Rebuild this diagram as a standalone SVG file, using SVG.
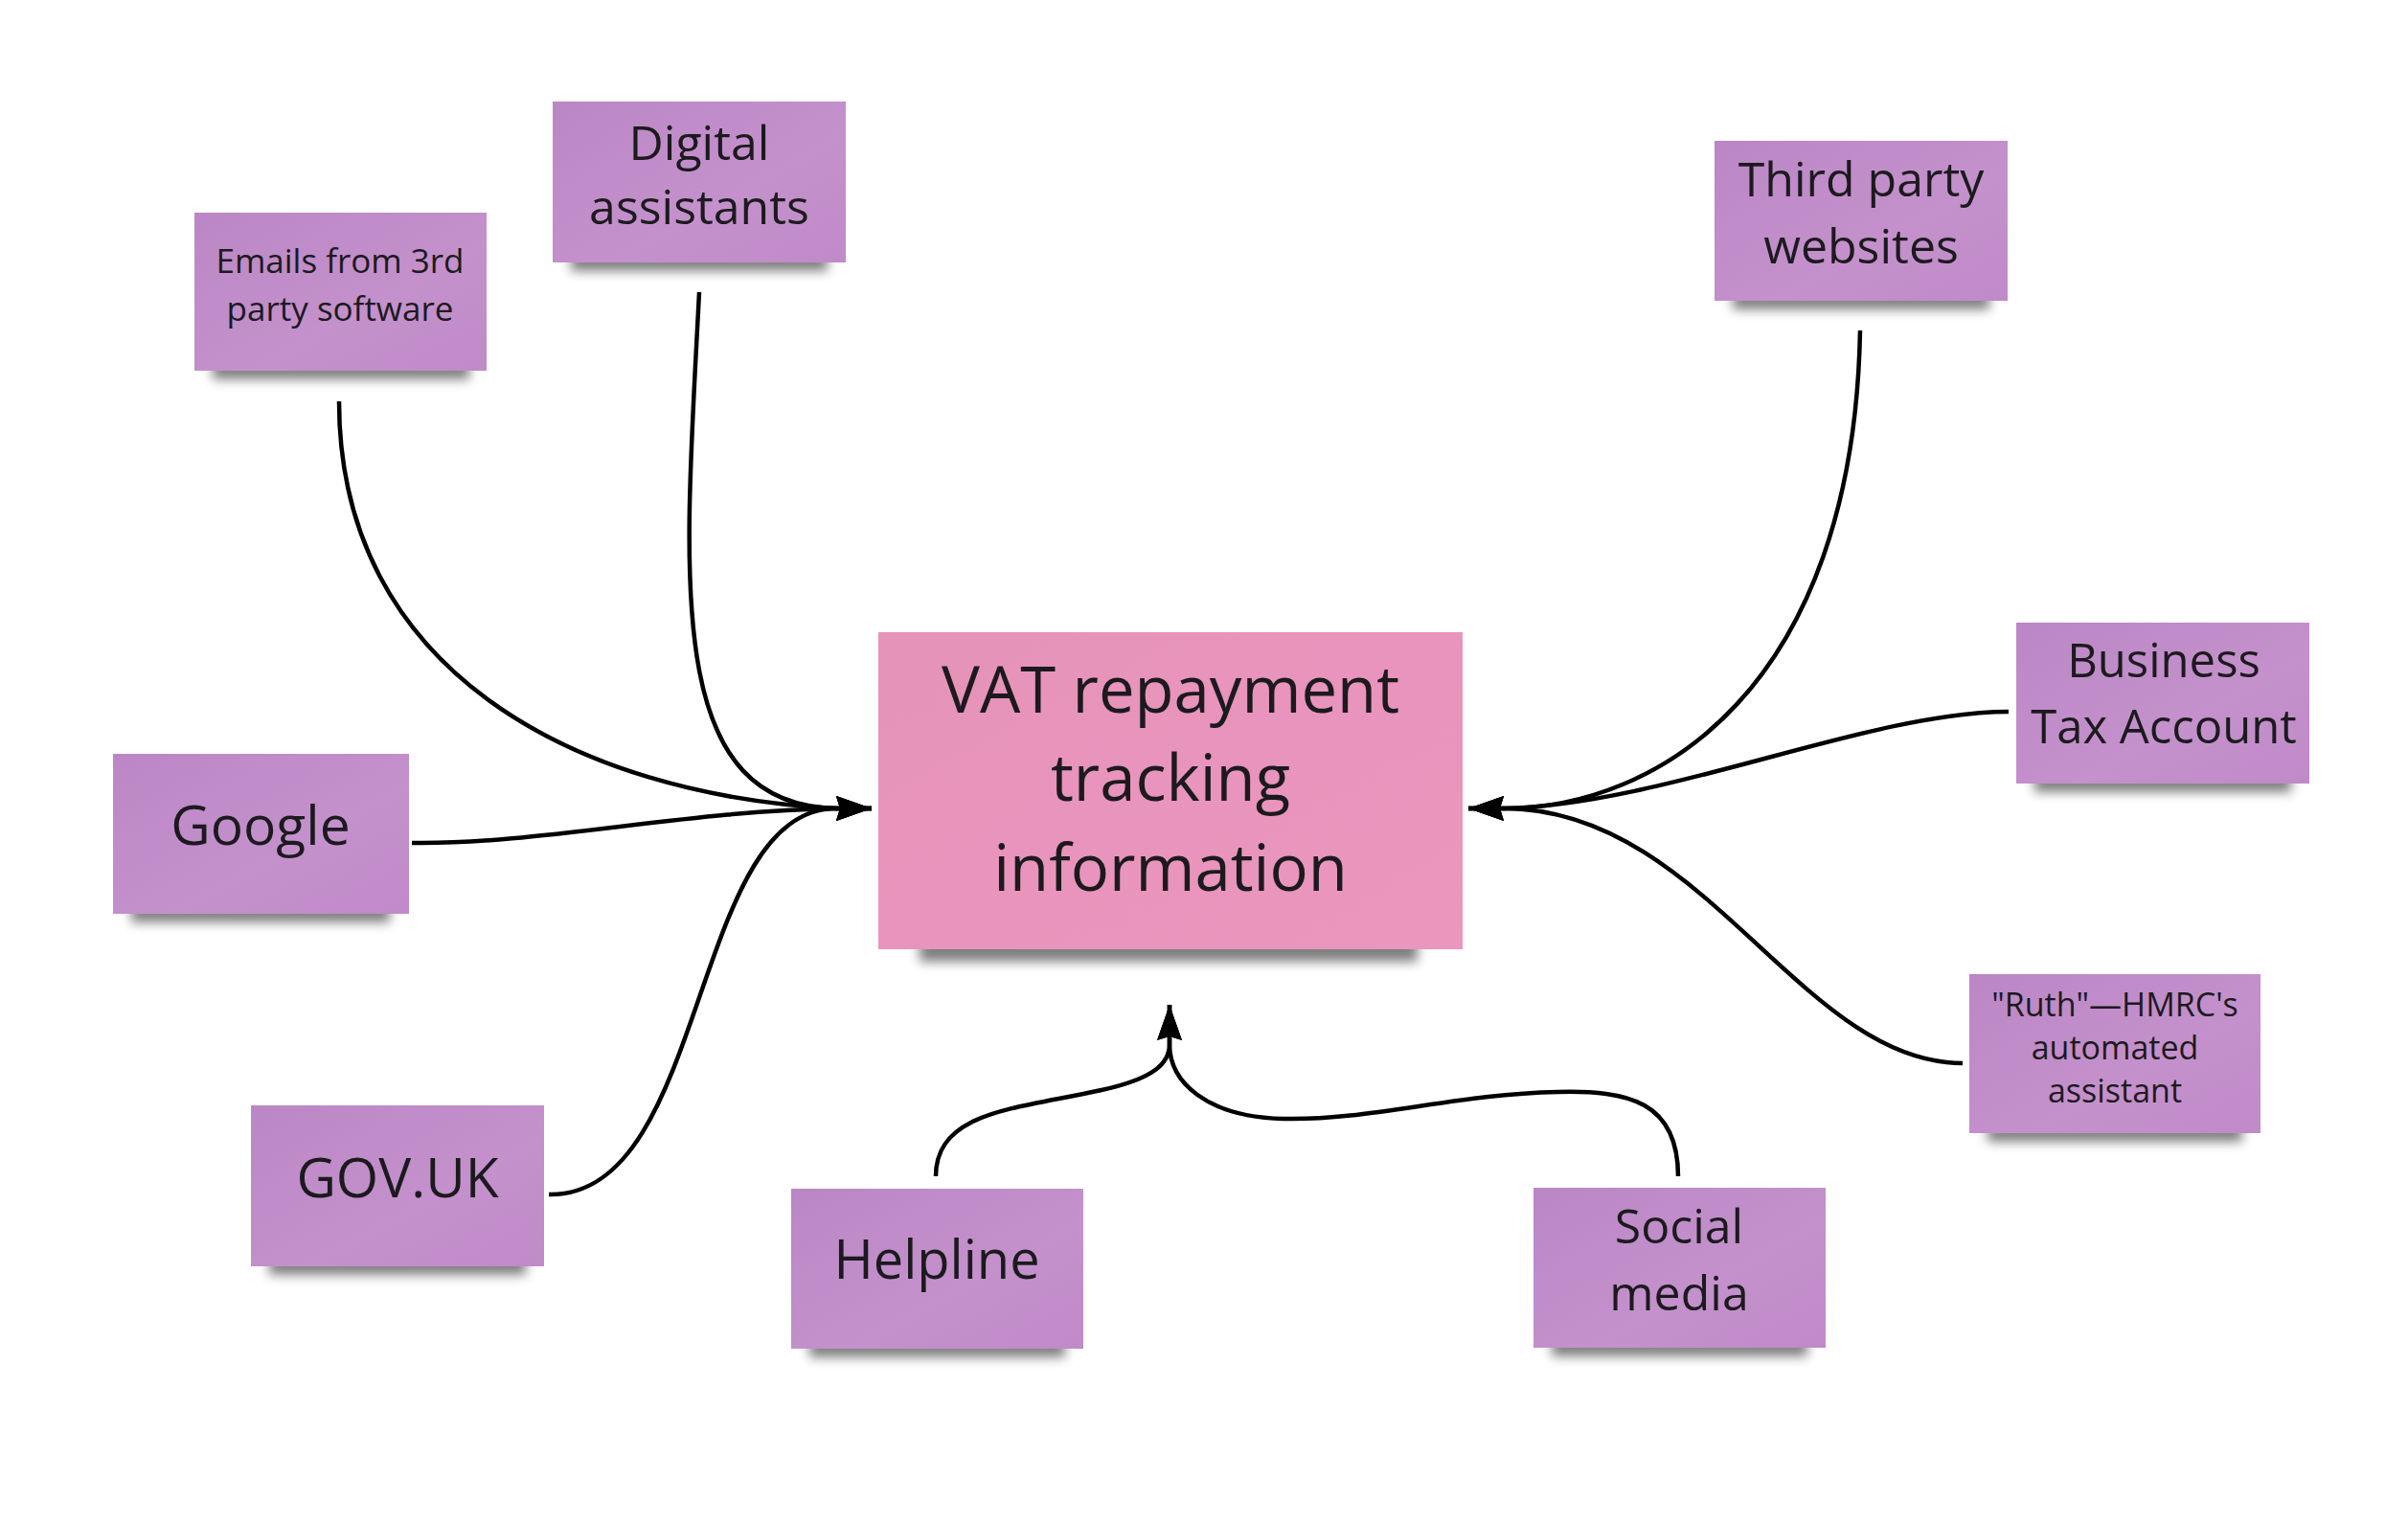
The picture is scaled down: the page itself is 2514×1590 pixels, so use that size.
<svg xmlns="http://www.w3.org/2000/svg" width="2514" height="1590" viewBox="0 0 2514 1590">
<style>
.note{fill:url(#gPurple)}
.main{fill:url(#gPink)}
.shadow{fill:#000;opacity:0.5;filter:url(#blur)}
text{font-family:"Open Sans","Noto Sans","DejaVu Sans",sans-serif;fill:#1c1a1e;text-anchor:middle}
.conn{fill:none;stroke:#000;stroke-width:4.5;stroke-linecap:butt}
</style>
<defs>
<linearGradient id="gPurple" x1="0" y1="0" x2="1" y2="1">
<stop offset="0" stop-color="#BB86C5"/>
<stop offset="0.6" stop-color="#C491CC"/>
<stop offset="1" stop-color="#C08AC8"/>
</linearGradient>
<linearGradient id="gPink" x1="0" y1="0" x2="1" y2="1">
<stop offset="0" stop-color="#E593B9"/>
<stop offset="0.5" stop-color="#E994BC"/>
<stop offset="1" stop-color="#EA96BD"/>
</linearGradient>
<filter id="blur" x="-20%" y="-100%" width="140%" height="300%">
<feGaussianBlur stdDeviation="6"/>
</filter>
<marker id="arrow" markerUnits="userSpaceOnUse" viewBox="0 0 38 26" markerWidth="38" markerHeight="26" refX="37" refY="13" orient="auto">
<path d="M0,0 L37,13 L0,26 L4,13 z" fill="#000"/>
</marker>
</defs>
<rect width="2514" height="1590" fill="#fff"/>

<g id="connectors">
<path class="conn" d="M354,419 C354,700 600,830 873,844 L910,844" marker-end="url(#arrow)"/>
<path class="conn" d="M730,305 C715,600 690,840 873,844 L910,844" marker-end="url(#arrow)"/>
<path class="conn" d="M430,880 C560,882 720,846 873,844 L910,844" marker-end="url(#arrow)"/>
<path class="conn" d="M573,1247 C740,1250 720,844 873,844 L910,844" marker-end="url(#arrow)"/>
<path class="conn" d="M1942,345 C1935,720 1730,844 1570,844 L1533,844" marker-end="url(#arrow)"/>
<path class="conn" d="M2097,743 C1950,743 1740,840 1570,844 L1533,844" marker-end="url(#arrow)"/>
<path class="conn" d="M2049,1110 C1880,1110 1780,844 1570,844 L1533,844" marker-end="url(#arrow)"/>
<path class="conn" d="M977,1228 C977,1160 1060,1158 1150,1138 C1205,1126 1221,1110 1221,1090 L1221,1049" marker-end="url(#arrow)"/>
<path class="conn" d="M1752,1228 C1752,1150 1700,1138 1626,1140 C1520,1142 1430,1170 1340,1168 C1260,1166 1221,1130 1221,1090 L1221,1049" marker-end="url(#arrow)"/>
</g>

<g id="node-center">
<rect class="shadow" x="960" y="978" width="520" height="26"/>
<rect class="main" x="917" y="660" width="610" height="331"/>
<text x="1222" y="744" font-size="67">VAT repayment</text>
<text x="1222" y="836" font-size="67">tracking</text>
<text x="1222" y="930" font-size="67">information</text>
</g>

<g id="node-emails">
<rect class="shadow" x="222" y="376" width="268" height="20"/>
<rect class="note" x="203" y="222" width="305" height="165"/>
<text x="355" y="285" font-size="35">Emails from 3rd</text>
<text x="355" y="335" font-size="35">party software</text>
</g>

<g id="node-digital">
<rect class="shadow" x="596" y="263" width="268" height="20"/>
<rect class="note" x="577" y="106" width="306" height="168"/>
<text x="730" y="167" font-size="50">Digital</text>
<text x="730" y="234" font-size="50">assistants</text>
</g>

<g id="node-third">
<rect class="shadow" x="1809" y="303" width="268" height="20"/>
<rect class="note" x="1790" y="147" width="306" height="167"/>
<text x="1943" y="205" font-size="50">Third party</text>
<text x="1943" y="275" font-size="50">websites</text>
</g>

<g id="node-business">
<rect class="shadow" x="2124" y="807" width="268" height="20"/>
<rect class="note" x="2105" y="650" width="306" height="168"/>
<text x="2259" y="707" font-size="49">Business</text>
<text x="2259" y="776" font-size="49">Tax Account</text>
</g>

<g id="node-google">
<rect class="shadow" x="137" y="943" width="270" height="20"/>
<rect class="note" x="118" y="787" width="309" height="167"/>
<text x="272" y="882" font-size="57">Google</text>
</g>

<g id="node-govuk">
<rect class="shadow" x="281" y="1311" width="268" height="20"/>
<rect class="note" x="262" y="1154" width="306" height="168"/>
<text x="415" y="1250" font-size="57">GOV.UK</text>
</g>

<g id="node-helpline">
<rect class="shadow" x="845" y="1397" width="267" height="20"/>
<rect class="note" x="826" y="1241" width="305" height="167"/>
<text x="978" y="1335" font-size="56">Helpline</text>
</g>

<g id="node-social">
<rect class="shadow" x="1620" y="1396" width="267" height="20"/>
<rect class="note" x="1601" y="1240" width="305" height="167"/>
<text x="1753" y="1298" font-size="50">Social</text>
<text x="1753" y="1368" font-size="50">media</text>
</g>

<g id="node-ruth">
<rect class="shadow" x="2075" y="1172" width="266" height="20"/>
<rect class="note" x="2056" y="1017" width="304" height="166"/>
<text x="2208" y="1061" font-size="34">"Ruth"—HMRC's</text>
<text x="2208" y="1106" font-size="34">automated</text>
<text x="2208" y="1151" font-size="34">assistant</text>
</g>
</svg>
